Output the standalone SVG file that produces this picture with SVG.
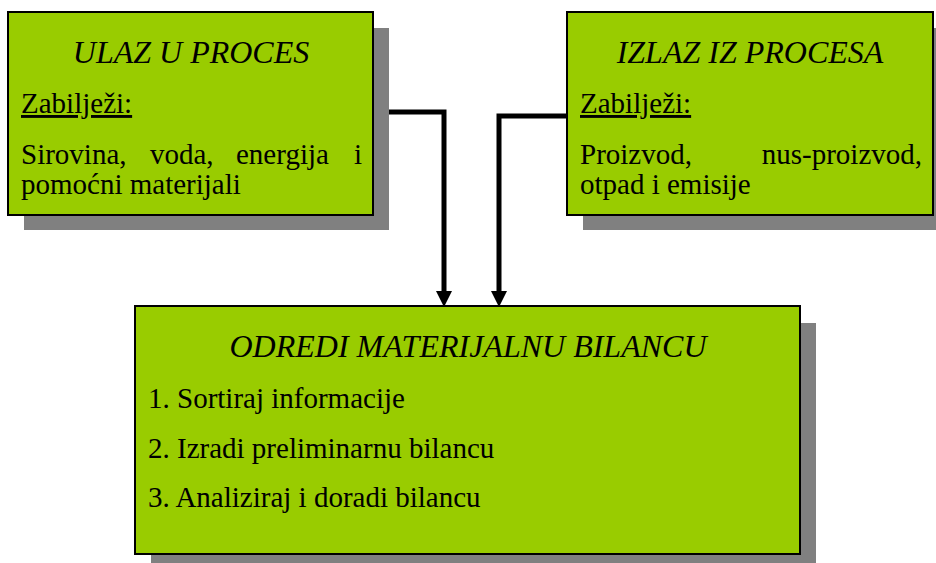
<svg xmlns="http://www.w3.org/2000/svg" width="936" height="563" viewBox="0 0 936 563">
<style>
.shadow{fill:#808080}
.box{fill:#99CC00;stroke:#000;stroke-width:2}
text{font-family:"Liberation Serif","Times New Roman",serif;fill:#000}
.title{font-size:32px;font-style:italic;text-anchor:middle}
.body{font-size:29px}
.end{text-anchor:end}
.conn{fill:none;stroke:#000;stroke-width:5}
</style>
<defs>
<marker id="arr" markerWidth="16" markerHeight="16" refX="0" refY="8" orient="auto" markerUnits="userSpaceOnUse" viewBox="0 0 16 16">
<path d="M0,0 L16,8 L0,16 Z" fill="#000"/>
</marker>
</defs>
<g id="connectors">
<polyline class="conn" points="389,112 444,112 444,291" marker-end="url(#arr)"/>
<polyline class="conn" points="567,116 499,116 499,291" marker-end="url(#arr)"/>
</g>
<g id="ulaz">
<rect class="shadow" x="24" y="28" width="365" height="202"/>
<rect class="box" x="8" y="12" width="365" height="203"/>
<text class="title" x="191" y="63">ULAZ U PROCES</text>
<text class="body" x="21" y="113" text-decoration="underline">Zabilježi:</text>
<text class="body" x="21" y="164">Sirovina,</text>
<text class="body" x="150" y="164">voda,</text>
<text class="body" x="236" y="164">energija</text>
<text class="body end" x="362" y="164">i</text>
<text class="body" x="21" y="194">pomoćni materijali</text>
</g>
<g id="izlaz">
<rect class="shadow" x="583" y="28" width="365" height="202"/>
<rect class="box" x="567" y="12" width="366" height="203"/>
<text class="title" x="750" y="63">IZLAZ IZ PROCESA</text>
<text class="body" x="580" y="113" text-decoration="underline">Zabilježi:</text>
<text class="body" x="580" y="164">Proizvod,</text>
<text class="body end" x="922" y="164">nus-proizvod,</text>
<text class="body" x="580" y="194">otpad i emisije</text>
</g>
<g id="odredi">
<rect class="shadow" x="151" y="323" width="665" height="250"/>
<rect class="box" x="135" y="306" width="665" height="248"/>
<text class="title" x="468" y="357">ODREDI MATERIJALNU BILANCU</text>
<text class="body" x="148" y="408">1. Sortiraj informacije</text>
<text class="body" x="148" y="458">2. Izradi preliminarnu bilancu</text>
<text class="body" x="148" y="507">3. Analiziraj i doradi bilancu</text>
</g>
</svg>
